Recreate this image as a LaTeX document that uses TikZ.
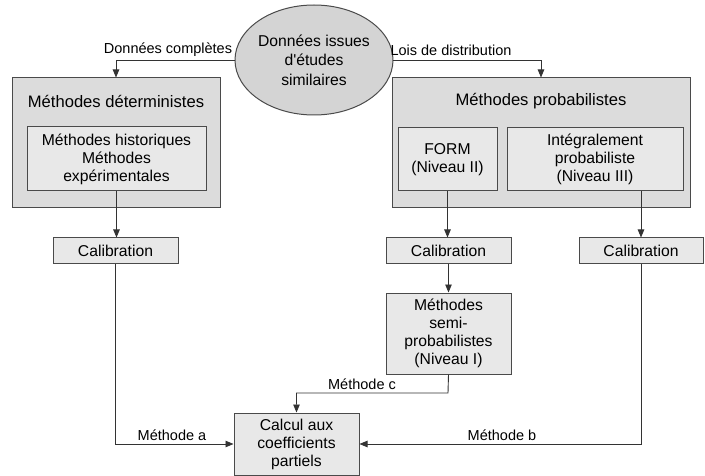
\documentclass[tikz,border=0pt]{standalone}
\usepackage{fontspec}
\setmainfont{Liberation Sans}[Ligatures=TeXOff]
\usetikzlibrary{shapes.geometric,arrows.meta}
\definecolor{bigfill}{HTML}{DCDCDC}
\definecolor{innerfill}{HTML}{E8E8E8}
\definecolor{ellfill}{HTML}{D4D4D4}
\definecolor{edge}{HTML}{4A4A4A}
\definecolor{wire}{HTML}{333333}
\tikzset{
  bigbox/.style={draw=edge, line width=1pt, fill=bigfill, inner sep=0pt},
  smallbox/.style={draw=edge, line width=1pt, fill=innerfill, align=center, inner sep=0pt, font=\fontsize{15.7}{18}\selectfont},
  title/.style={font=\fontsize{16.6}{19}\selectfont, inner sep=0pt},
  lbl/.style={font=\fontsize{14.5}{16}\selectfont, inner sep=0pt},
  arr/.style={draw=wire, line width=0.9pt, -{Triangle[length=8pt,width=6.5pt]}},
}
\begin{document}
\begin{tikzpicture}[x=1pt,y=-1pt]
\useasboundingbox (0,0) rectangle (705,476);
% source ellipse
\node[ellipse, draw=edge, line width=1pt, fill=ellfill, minimum width=148pt, minimum height=110pt, inner sep=0pt, align=center, font=\fontsize{15.7}{19.5}\selectfont] (src) at (314,60) {Données issues\\d'études\\similaires};
% deterministic
\node[bigbox, minimum width=208pt, minimum height=130pt] (det) at (116,143) {};
\node[title] (dettitle) at (116,101) {Méthodes déterministes};
\node[smallbox, minimum width=179pt, minimum height=64pt] (hist) at (116.5,159) {Méthodes historiques\\Méthodes\\expérimentales};
% probabilistic
\node[bigbox, minimum width=298pt, minimum height=130pt] (prob) at (541,143) {};
\node[title] (probtitle) at (541,101) {Méthodes probabilistes};
\node[smallbox, minimum width=99pt, minimum height=63pt] (form) at (447.5,159.5) {FORM\\(Niveau II)};
\node[smallbox, minimum width=176pt, minimum height=63pt] (integ) at (595,159.5) {Intégralement\\probabiliste\\(Niveau III)};
% calibrations
\node[smallbox, minimum width=125pt, minimum height=26pt] (cal1) at (115.5,251) {Calibration};
\node[smallbox, minimum width=125pt, minimum height=26pt] (cal2) at (448.5,251) {Calibration};
\node[smallbox, minimum width=124pt, minimum height=26pt] (cal3) at (641,251) {Calibration};
% semi
\node[smallbox, minimum width=125pt, minimum height=81pt] (semi) at (448.5,333.5) {Méthodes\\semi-\\probabilistes\\(Niveau I)};
% calcul
\node[smallbox, minimum width=125pt, minimum height=62pt] (calc) at (296.5,444) {Calcul aux\\coefficients\\partiels};
% connectors
\draw[arr] (src.west) -| (det.north);
\draw[arr] (src.east) -| (prob.north);
\draw[arr] (hist.south) -- (hist.south |- cal1.north);
\draw[arr] (form.south) -- (form.south |- cal2.north);
\draw[arr] (cal3.north |- integ.south) -- (cal3.north);
\draw[arr] (cal2.south) -- (cal2.south |- semi.north);
\coordinate (cbend) at (448,393);
\draw[arr] (semi.south) -- (cbend) -| (calc.north);
\draw[arr] (cal1.south) |- (calc.west);
\draw[arr] (cal3.south) |- (calc.east);
% labels
\node[lbl] (lcomp) at (168,50) {Données complètes};
\node[lbl] (llois) at (451,50) {Lois de distribution};
\node[lbl] (la) at (172,435) {Méthode a};
\node[lbl] (lb) at (502,435) {Méthode b};
\node[lbl] (lc) at (362,384) {Méthode c};
\end{tikzpicture}
\end{document}
